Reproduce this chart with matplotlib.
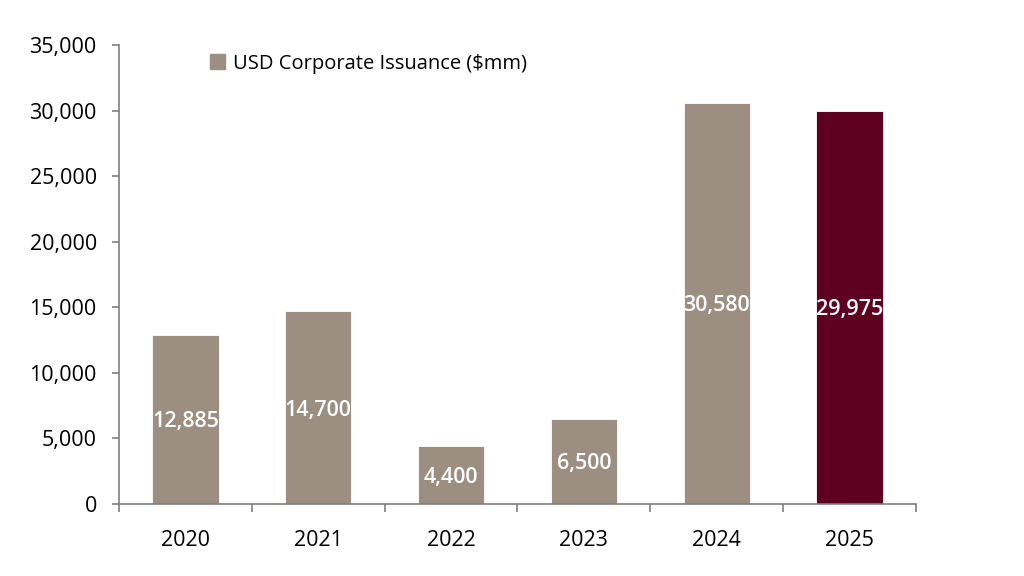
import numpy as np
import matplotlib.pyplot as plt
from matplotlib.ticker import FuncFormatter, FixedLocator
from matplotlib.patches import Patch

plt.rcParams['font.family'] = ['Open Sans', 'DejaVu Sans']

years = ['2020', '2021', '2022', '2023', '2024', '2025']
issuance = [12885, 14700, 4400, 6500, 30580, 29975]
bar_colors = ['#9c8f81'] * 5 + ['#5e0020']

fig = plt.figure(figsize=(10.24, 5.76), dpi=100)
ax = fig.add_axes([0.1162, 0.125, 0.7783, 0.797])

x = np.arange(len(years))
bars = ax.bar(x, issuance, width=0.5, color=bar_colors, edgecolor='white', linewidth=0.6)

for xi, v in zip(x, issuance):
    ax.text(xi, v / 2, f'{v:,}', ha='center', va='center_baseline', color='white',
            fontsize=15.5, fontweight='semibold')

ax.set_xlim(-0.5, len(years) - 0.5)
ax.set_ylim(0, 35000)
ax.set_yticks(np.arange(0, 35001, 5000))
ax.yaxis.set_major_formatter(FuncFormatter(lambda v, p: f'{int(v):,}'))

# category labels centred, tick marks on the boundaries
ax.set_xticks(x)
ax.set_xticklabels(years)
ax.xaxis.set_minor_locator(FixedLocator(np.arange(-0.5, len(years), 1.0)))
ax.tick_params(axis='x', which='major', length=0, pad=19, labelsize=15.5)
ax.tick_params(axis='x', which='minor', length=6, width=1.2, color='#7f7f7f', direction='out')
ax.tick_params(axis='y', length=5, width=1.2, color='#7f7f7f', labelsize=15.5, pad=11)

for s in ['top', 'right']:
    ax.spines[s].set_visible(False)
for s in ['left', 'bottom']:
    ax.spines[s].set_color('#7f7f7f')
    ax.spines[s].set_linewidth(1.2)

ax.legend(handles=[Patch(color='#9c8f81', label='USD Corporate Issuance ($mm)')],
          loc='upper left', bbox_to_anchor=(0.091, 1.02), frameon=False,
          fontsize=14.5, handlelength=0.75, handleheight=0.75, handletextpad=0.4)

fig.savefig('out.png', dpi=100)
